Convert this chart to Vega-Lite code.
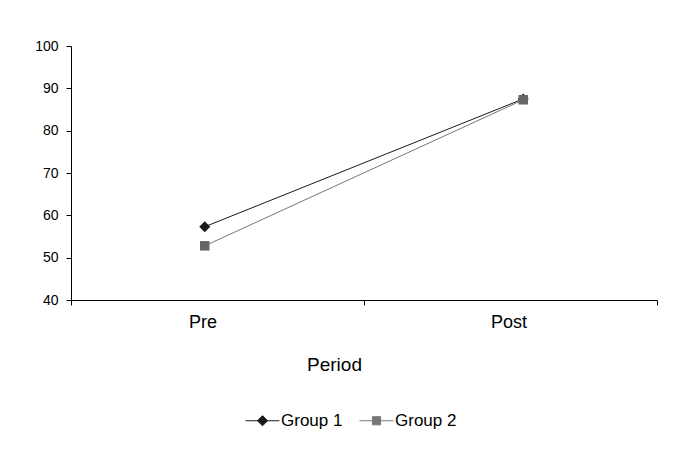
{
  "$schema": "https://vega.github.io/schema/vega-lite/v6.json",
  "autosize": "none",
  "width": 586,
  "height": 254,
  "padding": {"left": 71, "top": 46, "right": 17, "bottom": 157},
  "background": "white",
  "config": {
    "font": "Liberation Sans",
    "view": {"stroke": null},
    "axis": {"domainColor": "black", "tickColor": "black", "labelColor": "black", "titleColor": "black", "grid": false, "titleFontWeight": "normal"},
    "legend": {"labelColor": "black"}
  },
  "data": {
    "values": [
      {"Period": "Pre", "Group": "Group 1", "Score": 57.3},
      {"Period": "Post", "Group": "Group 1", "Score": 87.5},
      {"Period": "Pre", "Group": "Group 2", "Score": 52.8},
      {"Period": "Post", "Group": "Group 2", "Score": 87.3}
    ]
  },
  "resolve": {"scale": {"x": "independent"}},
  "layer": [
    {
      "mark": {"type": "point", "opacity": 0},
      "encoding": {
        "x": {
          "field": "Period", "type": "nominal", "sort": ["Pre", "Post"],
          "scale": {"type": "band", "paddingInner": 0, "paddingOuter": 0},
          "axis": {
            "title": "Period", "labelAngle": 0, "tickBand": "extent", "tickSize": 5,
            "labelFontSize": 18, "labelPadding": 8,
            "labelOffset": {"condition": {"test": "datum.value === 'Pre'", "value": -15}, "value": -2},
            "titleFontSize": 19, "titleX": 263, "titleY": 64, "titleBaseline": "middle"
          }
        }
      }
    },
    {
      "mark": {"type": "line", "strokeWidth": 1},
      "encoding": {
        "x": {"field": "Period", "type": "nominal", "sort": ["Pre", "Post"], "scale": {"type": "point", "padding": 0.42}, "axis": null},
        "y": {"field": "Score", "type": "quantitative", "scale": {"domain": [40, 100]},
          "axis": {"title": null, "values": [40, 50, 60, 70, 80, 90, 100], "tickSize": 5, "labelFontSize": 14, "labelPadding": 8}},
        "color": {"field": "Group", "type": "nominal", "scale": {"domain": ["Group 1", "Group 2"], "range": ["#1a1a1a", "#777777"]},
          "legend": {
            "title": null, "orient": "none", "direction": "horizontal", "legendX": 174, "legendY": 357,
            "padding": 0, "symbolSize": 1156, "labelFontSize": 17, "labelOffset": 1, "columnPadding": 14,
            "encode": {"symbols": {"update": {
              "shape": {"signal": "datum.value === 'Group 1' ? 'M-1,0H1M0,-0.3L0.3,0L0,0.3L-0.3,0Z' : 'M-1,0H1M-0.24,-0.24H0.24V0.24H-0.24Z'"},
              "stroke": {"signal": "datum.value === 'Group 1' ? '#1a1a1a' : '#666666'"},
              "fill": {"signal": "datum.value === 'Group 1' ? '#1a1a1a' : '#666666'"},
              "strokeWidth": {"value": 1},
              "opacity": {"value": 1}
            }}}
          }}
      }
    },
    {
      "transform": [{"filter": "datum.Group === 'Group 1'"}],
      "mark": {"type": "point", "filled": true, "opacity": 1, "strokeWidth": 0, "shape": "diamond", "size": 121},
      "encoding": {
        "x": {"field": "Period", "type": "nominal", "sort": ["Pre", "Post"], "scale": {"type": "point", "padding": 0.42}, "axis": null},
        "y": {"field": "Score", "type": "quantitative"},
        "color": {"field": "Group", "type": "nominal"}
      }
    },
    {
      "transform": [{"filter": "datum.Group === 'Group 2'"}],
      "mark": {"type": "point", "filled": true, "opacity": 1, "strokeWidth": 0, "shape": "square", "size": 90, "color": "#666666"},
      "encoding": {
        "x": {"field": "Period", "type": "nominal", "sort": ["Pre", "Post"], "scale": {"type": "point", "padding": 0.42}, "axis": null},
        "y": {"field": "Score", "type": "quantitative"}
      }
    }
  ]
}
